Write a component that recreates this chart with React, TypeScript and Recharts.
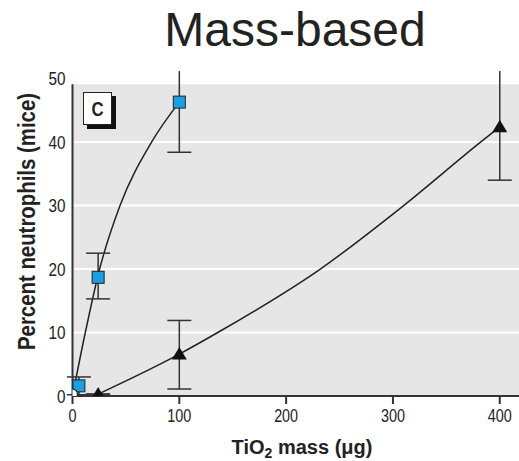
import {
  ComposedChart,
  Line,
  Scatter,
  ErrorBar,
  XAxis,
  YAxis,
  ReferenceArea,
  ReferenceLine,
} from 'recharts';

// fitted curves
const squareFitX = [0, 12, 25.4, 44.5, 74, 100];
const squareFitY = [0, 10, 20, 30, 40, 46.3];
const triangleFitX = [24, 100, 136, 232, 310, 382, 400];
const triangleFitY = [0.3, 6.6, 10, 20, 30, 40, 42.4];

// measured points with error bars [minus, plus]
const squareX = [6, 24, 100];
const squareY = [1.6, 18.7, 46.3];
const squareErr = [[1.4, 1.4], [3.4, 3.8], [7.9, 9]];
const triangleX = [24, 100, 400];
const triangleY = [0.3, 6.6, 42.4];
const triangleErr = [[0, 0], [5.5, 5.3], [8.4, 9.5]];
const controlX = [0];
const controlY = [0.3];

const xTicks = [0, 100, 200, 300, 400];
const yTicks = [0, 10, 20, 30, 40, 50];

const squareFit = squareFitX.map((x, i) => ({ x, y: squareFitY[i] }));
const triangleFit = triangleFitX.map((x, i) => ({ x, y: triangleFitY[i] }));
const squares = squareX.map((x, i) => ({ x, y: squareY[i], err: squareErr[i] }));
const triangles = triangleX.map((x, i) => ({ x, y: triangleY[i], err: triangleErr[i] }));
const controls = controlX.map((x, i) => ({ x, y: controlY[i] }));

const sans = '"Liberation Sans", Arial, sans-serif';
const ink = '#222';

const SquareDot = (p: any) => (
  <rect x={p.cx - 6} y={p.cy - 6} width={12} height={12} fill="#1a9fe0" stroke={ink} strokeWidth={1} />
);
const TriangleDot = (p: any) => (
  <polygon
    points={`${p.cx},${p.cy - 7} ${p.cx - 7.5},${p.cy + 5.5} ${p.cx + 7.5},${p.cy + 5.5}`}
    fill="#111"
  />
);
const CircleDot = (p: any) => <circle cx={p.cx} cy={p.cy} r={5} fill="#fff" stroke={ink} strokeWidth={1.2} />;

// narrow digits: squeeze Liberation Sans to the condensed width of the original
const XTick = (p: any) => {
  const s = String(p.payload.value);
  return (
    <text x={p.x} y={p.y} dy={18} textAnchor="middle" fontFamily={sans} fontSize={18} fill={ink}
      textLength={s.length * 8} lengthAdjust="spacingAndGlyphs">
      {s}
    </text>
  );
};
const YTick = (p: any) => {
  const s = String(p.payload.value);
  return (
    <text x={p.x} y={p.y} dy={6.5} textAnchor="end" fontFamily={sans} fontSize={18} fill={ink}
      textLength={s.length * 8.5} lengthAdjust="spacingAndGlyphs">
      {s}
    </text>
  );
};

const XLabel = () => (
  <text x={302} y={454} textAnchor="middle" fontFamily={sans} fontWeight="bold" fontSize={20} fill={ink}>
    TiO<tspan fontSize={14} baselineShift="-25%">2</tspan> mass (μg)
  </text>
);
const YLabel = () => (
  <text x={0} y={0} transform="translate(35 221.5) rotate(-90)" textAnchor="middle" fontFamily={sans}
    fontWeight="bold" fontSize={23} fill={ink} textLength={257} lengthAdjust="spacingAndGlyphs">
    Percent neutrophils (mice)
  </text>
);

export default function App() {
  return (
    <div style={{ position: 'absolute', left: 0, top: 0, width: 519, height: 461, background: '#fff' }}>
      <ComposedChart width={519} height={461} margin={{ top: 71, right: 0, bottom: 0, left: 0 }}>
        <XAxis
          type="number"
          dataKey="x"
          domain={[0, 418]}
          allowDataOverflow
          ticks={xTicks}
          height={65}
          tickSize={8}
          tickMargin={0}
          stroke="#333"
          strokeWidth={2}
          tick={<XTick />}
          label={<XLabel />}
        />
        <YAxis
          type="number"
          dataKey="y"
          domain={[0, 51.2]}
          allowDataOverflow
          ticks={yTicks}
          width={72.5}
          axisLine={false}
          tickLine={false}
          tickSize={4}
          tickMargin={3}
          tick={<YTick />}
          label={<YLabel />}
        />
        <ReferenceArea x1={0} x2={418} y1={0} y2={49.1} fill="#e6e6e6" fillOpacity={1} stroke="none" />
        {yTicks
          .filter((t) => t > 0 && t < 50)
          .map((t) => (
            <ReferenceLine key={t} y={t} stroke="#fff" strokeWidth={2} />
          ))}
        <ReferenceLine
          segment={[
            { x: 0, y: 0 },
            { x: 0, y: 49.1 },
          ]}
          stroke="#333"
          strokeWidth={2}
        />
        <Line
          data={squareFit}
          dataKey="y"
          type="monotone"
          stroke={ink}
          strokeWidth={1.5}
          dot={false}
          isAnimationActive={false}
        />
        <Line
          data={triangleFit}
          dataKey="y"
          type="monotone"
          stroke={ink}
          strokeWidth={1.5}
          dot={false}
          isAnimationActive={false}
        />
        <Scatter data={squares} dataKey="y" shape={SquareDot} isAnimationActive={false}>
          <ErrorBar dataKey="err" direction="y" width={12} stroke="#333" strokeWidth={1.5} />
        </Scatter>
        <Scatter data={triangles} dataKey="y" shape={TriangleDot} isAnimationActive={false}>
          <ErrorBar dataKey="err" direction="y" width={12} stroke="#333" strokeWidth={1.5} />
        </Scatter>
        <Scatter data={controls} dataKey="y" shape={CircleDot} isAnimationActive={false} />
      </ComposedChart>
      {/* the original figure is cropped at the top: hide error bars running past the frame */}
      <div style={{ position: 'absolute', left: 72, top: 0, width: 447, height: 71, background: '#fff' }} />
      <div
        style={{
          position: 'absolute',
          left: 0,
          top: 6,
          width: 590,
          textAlign: 'center',
          fontFamily: sans,
          fontSize: 48,
          lineHeight: '48px',
          color: ink,
        }}
      >
        Mass-based
      </div>
      <div
        style={{
          position: 'absolute',
          left: 83,
          top: 92,
          width: 27,
          height: 31,
          border: `1.5px solid ${ink}`,
          background: '#fff',
          boxShadow: '4px 4px 0 #111',
          fontFamily: sans,
          fontWeight: 'bold',
          fontSize: 21,
          lineHeight: '31px',
          textAlign: 'center',
          color: ink,
        }}
      >
        <span style={{ display: 'inline-block', transform: 'scaleX(0.8)' }}>C</span>
      </div>
    </div>
  );
}
